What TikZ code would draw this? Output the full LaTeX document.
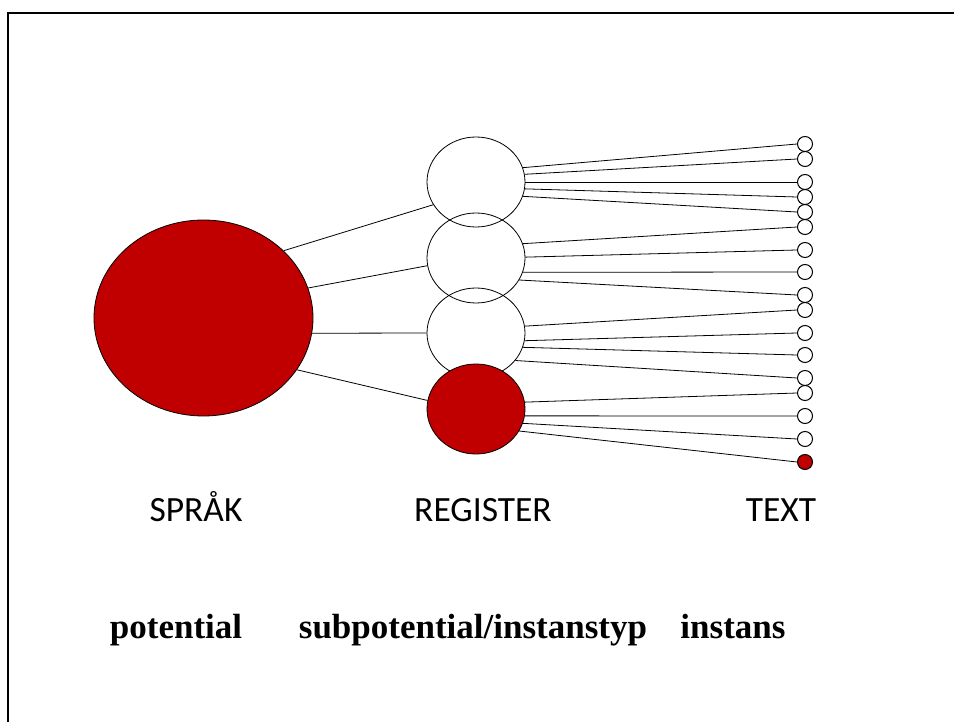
\documentclass[tikz,border=0pt]{standalone}
\usepackage{fontspec}
\setmainfont{Liberation Serif}
\newfontfamily\labelfont{Carlito}
\usetikzlibrary{shapes.geometric}
\definecolor{darkred}{HTML}{C00000}
\tikzset{
  link/.style={line width=0.8pt},
  spr/.style={ellipse, draw, line width=0.8pt, inner sep=0pt,
              minimum width=219, minimum height=196, fill=darkred},
  reg/.style={ellipse, draw, line width=0.8pt, inner sep=0pt,
              minimum width=98, minimum height=90},
  txt/.style={circle, draw, line width=1pt, inner sep=0pt,
              minimum size=15, fill=white},
  caplabel/.style={anchor=base, inner sep=0pt,
                   font=\labelfont\fontsize{35.5}{42}\selectfont},
  boldlabel/.style={anchor=base, inner sep=0pt,
                    font=\bfseries\fontsize{35}{42}\selectfont}
}
\begin{document}
\begin{tikzpicture}[x=1pt,y=-1pt]
\useasboundingbox (0,0) rectangle (954,722);
\clip (0,0) rectangle (954,722);
\fill[white] (0,0) rectangle (954,722);
% slide frame, running off the right and bottom edges
\draw[line width=2pt] (8,740) -- (8,13) -- (970,13);

% language
\node[spr] (sprak) at (203.5,318) {};

% registers
\node[reg] (r1) at (476,182) {};
\node[reg] (r2) at (476,258) {};
\node[reg] (r3) at (476,333) {};
\node[reg, fill=darkred] (r4) at (476,409) {};

% texts
\foreach \i/\y in {1/144,2/159,3/182,4/197,5/212,6/227,7/250,8/272,9/295,
                   10/310,11/333,12/355,13/378,14/393,15/416,16/439}
  \node[txt] (t\i) at (805,\y) {};
\node[txt, fill=darkred] (t17) at (805,462) {};

% language to registers
\draw[link] (sprak.40.6) -- (r1.208);
\draw[link] (sprak.16.4) -- (r2.189.3);
\draw[link] (sprak.-8.2) -- (r3.180);
\draw[link] (sprak.-29.7) -- (r4.170.7);

% registers to texts
\draw[link] (r1.17) -- (t1.west);
\draw[link] (r1.9.3) -- (t2.west);
\draw[link] (r1.0) -- (t3.west);
\draw[link] (r1.-8.1) -- (t4.west);
\draw[link] (r1.-17) -- (t5.west);

\draw[link] (r2.17) -- (t6.west);
\draw[link] (r2.1) -- (t7.west);
\draw[link] (r2.-17) -- (t8.west);
\draw[link] (r2.-27.6) -- (t9.west);

\draw[link] (r3.8) -- (t10.west);
\draw[link] (r3.-9) -- (t11.west);
\draw[link] (r3.-17) -- (t12.west);
\draw[link] (r3.-35.5) -- (t13.west);

\draw[link] (r4.8) -- (t14.west);
\draw[link] (r4.-8) -- (t15.west);
\draw[link] (r4.-17) -- (t16.west);
\draw[link] (r4.-27.6) -- (t17.west);

% column labels
\node[caplabel] (lsprak) at (196,521) {SPRÅK};
\node[caplabel] (lreg) at (483,521) {REGISTER};
\node[caplabel] (ltext) at (781,521) {TEXT};

\node[boldlabel] (lpot) at (176,638) {potential};
\node[boldlabel] (lsub) at (473,638) {subpotential/instanstyp};
\node[boldlabel] (linst) at (733,638) {instans};
\end{tikzpicture}
\end{document}
